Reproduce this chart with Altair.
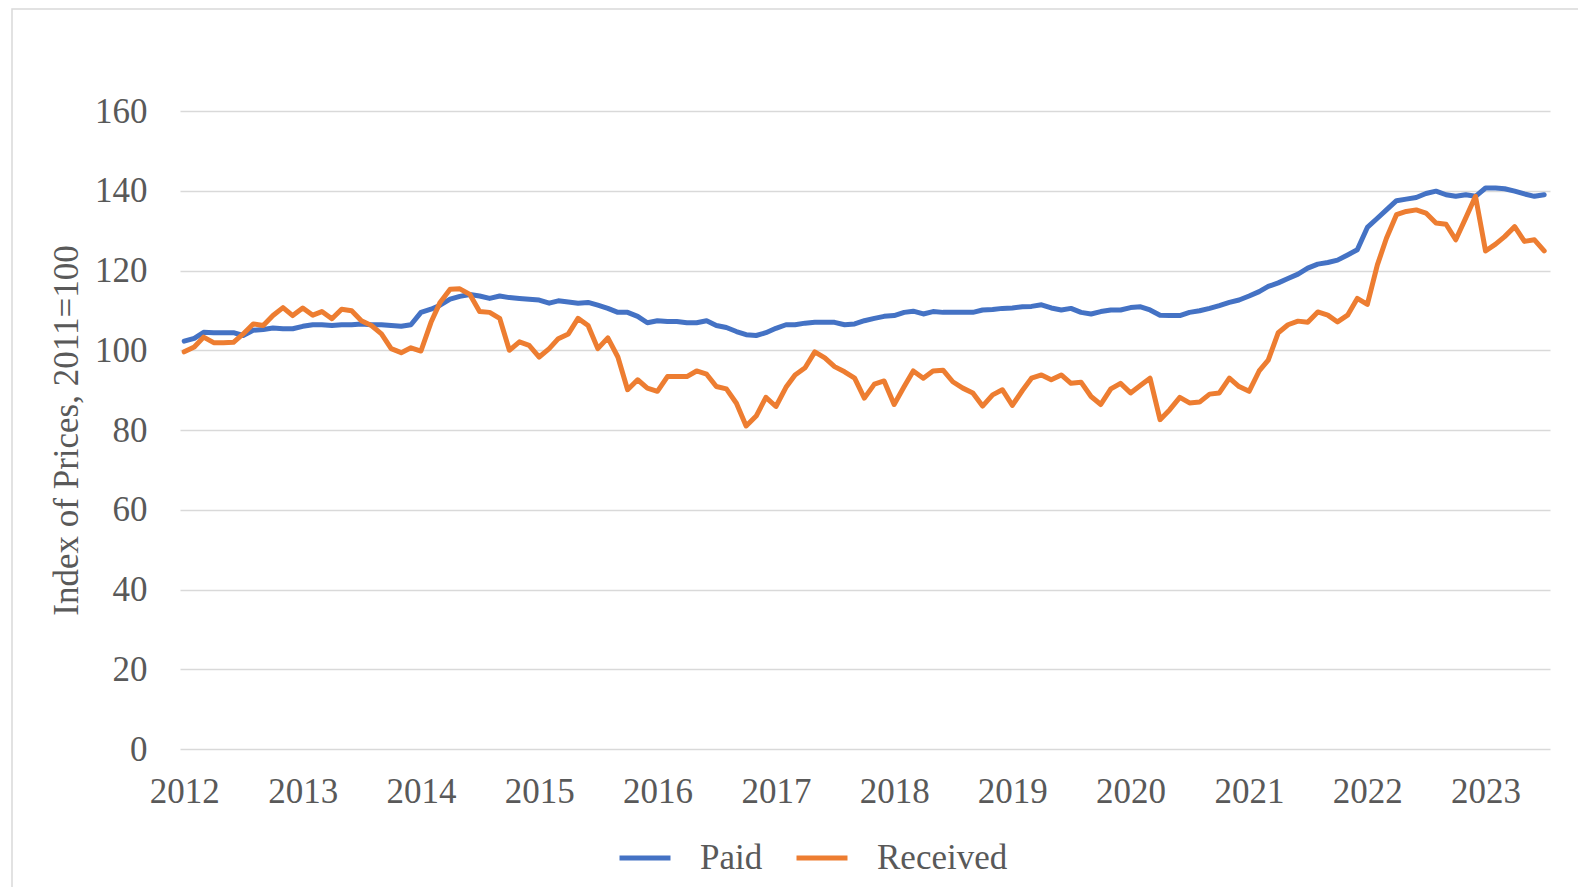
import altair as alt
import pandas as pd

# Monthly index values, Jan 2012 .. Jul 2023 (2011 = 100)
start_month = "2012-01"
paid = [
    102.3, 103.0, 104.5, 104.4, 104.4, 104.4, 103.7, 105.0, 105.2, 105.6, 105.4, 105.4,
    106.0, 106.4, 106.4, 106.2, 106.4, 106.4, 106.6, 106.4, 106.4, 106.2, 106.0, 106.4,
    109.5, 110.3, 111.3, 112.8, 113.5, 114.0, 113.6, 113.0, 113.6, 113.2, 113.0, 112.8,
    112.6, 111.8, 112.4, 112.1, 111.8, 112.0, 111.3, 110.5, 109.5, 109.5, 108.5, 106.9,
    107.4, 107.2, 107.2, 106.9, 106.9, 107.4, 106.2, 105.7, 104.7, 103.9, 103.7, 104.4,
    105.5, 106.4, 106.4, 106.8, 107.0, 107.0, 107.0, 106.4, 106.6, 107.4, 108.0, 108.5,
    108.7, 109.5, 109.8, 109.1, 109.7, 109.5, 109.5, 109.5, 109.5, 110.1, 110.2, 110.5,
    110.6, 110.9, 111.0, 111.4, 110.6, 110.1, 110.5, 109.5, 109.1, 109.7, 110.1, 110.1,
    110.7, 110.9, 110.1, 108.8, 108.7, 108.7, 109.5, 109.9, 110.5, 111.2, 112.0, 112.6,
    113.6, 114.7, 116.0, 116.9, 118.0, 119.1, 120.6, 121.6, 122.0, 122.6, 123.9, 125.2,
    130.8, 133.1, 135.2, 137.5, 137.9, 138.3, 139.3, 139.9, 139.0, 138.6, 139.0, 138.6,
    140.7, 140.7, 140.5, 139.9, 139.2, 138.6, 139.0,
]
received = [
    99.6, 100.8, 103.3, 101.9, 101.9, 102.0, 104.1, 106.6, 106.2, 108.7, 110.7, 108.7,
    110.6, 108.8, 109.7, 107.9, 110.3, 109.9, 107.4, 106.2, 104.1, 100.4, 99.4, 100.6,
    99.8, 107.0, 112.0, 115.3, 115.4, 114.0, 109.7, 109.5, 108.0, 100.0, 102.1, 101.2,
    98.3, 100.4, 102.9, 104.1, 108.0, 106.2, 100.4, 103.1, 98.3, 90.1, 92.6, 90.5,
    89.7, 93.4, 93.4, 93.4, 94.8, 94.0, 90.9, 90.3, 86.7, 81.0, 83.5, 88.2,
    85.9, 90.7, 93.8, 95.6, 99.6, 98.1, 95.9, 94.6, 93.0, 88.0, 91.5, 92.3,
    86.4, 90.9, 94.8, 93.0, 94.8, 95.0, 92.1, 90.5, 89.3, 86.0, 88.8, 90.1,
    86.2, 89.9, 93.0, 93.8, 92.6, 93.8, 91.7, 92.0, 88.4, 86.4, 90.3, 91.7,
    89.3, 91.2, 93.0, 82.6, 85.1, 88.2, 86.8, 87.0, 89.0, 89.3, 93.0, 90.9,
    89.7, 94.8, 97.5, 104.4, 106.4, 107.3, 107.0, 109.6, 108.8, 107.1, 108.8, 113.0,
    111.5, 121.4, 128.1, 134.0, 134.8, 135.2, 134.4, 131.9, 131.6, 127.7, 133.2, 138.6,
    124.9, 126.6, 128.5, 131.0, 127.3, 127.7, 124.9,
]
series_names = ["Paid", "Received"]
series_colors = ["#4472C4", "#ED7D31"]
year_ticks = list(range(2012, 2024))
y_ticks = [0, 20, 40, 60, 80, 100, 120, 140, 160]

months = pd.period_range(start_month, periods=len(paid), freq="M")
dates = [f"{p.year}/{p.month:02d}/01" for p in months]
df = pd.concat([
    pd.DataFrame({"date": dates, "value": paid, "series": "Paid"}),
    pd.DataFrame({"date": dates, "value": received, "series": "Received"}),
], ignore_index=True)

FONT = "Liberation Serif"
GREY = "#595959"

W, H = 1370, 638

lines = alt.Chart(df).mark_line(strokeWidth=5, strokeJoin="round", strokeCap="round").encode(
    x=alt.X(
        "date:T",
        scale=alt.Scale(domain=[alt.DateTime(year=2011, month=12, date=19),
                                alt.DateTime(year=2023, month=7, date=19)]),
        axis=alt.Axis(
            values=[alt.DateTime(year=y, month=1, date=1) for y in year_ticks],
            format="%Y", title=None, grid=False, domain=False, ticks=False,
            labelFont=FONT, labelFontSize=35, labelColor=GREY, labelPadding=25,
            labelAngle=0, labelOverlap=False,
        ),
    ),
    y=alt.Y(
        "value:Q",
        scale=alt.Scale(domain=[0, 160], nice=False, zero=True),
        axis=alt.Axis(
            values=y_ticks, grid=True, gridColor="#d9d9d9", gridWidth=1.5,
            domain=False, ticks=False,
            labelFont=FONT, labelFontSize=35, labelColor=GREY, labelPadding=33,
            title="Index of Prices, 2011=100", titleFont=FONT, titleFontSize=35,
            titleFontWeight="normal", titleColor=GREY, titleX=-103, titleY=319,
            titleAngle=270, titleAlign="center", titleBaseline="alphabetic",
        ),
    ),
    color=alt.Color(
        "series:N",
        scale=alt.Scale(domain=series_names, range=series_colors),
        legend=alt.Legend(
            orient="none", legendX=437, legendY=719, direction="horizontal",
            title=None, labelFont=FONT, labelFontSize=35, labelColor=GREY,
            symbolType="stroke", symbolSize=2600, symbolStrokeWidth=5,
            labelOffset=27, columnPadding=23, padding=0,
        ),
    ),
    order=alt.Order("date:T"),
)

frame = alt.Chart(alt.Data(values=[{"k": 1}])).mark_rect(
    fillOpacity=0, stroke="#d9d9d9", strokeWidth=1.5, clip=False
).encode(
    x=alt.value(-168), y=alt.value(-102), x2=alt.value(1440), y2=alt.value(820)
)

chart = alt.layer(frame, lines).properties(
    width=W, height=H,
    autosize=alt.AutoSizeParams(type="none"),
    padding={"left": 172, "top": 103, "right": 28, "bottom": 138},
).configure_view(strokeWidth=0)

chart.save("out.html", embed_options={"renderer": "svg", "actions": False})
